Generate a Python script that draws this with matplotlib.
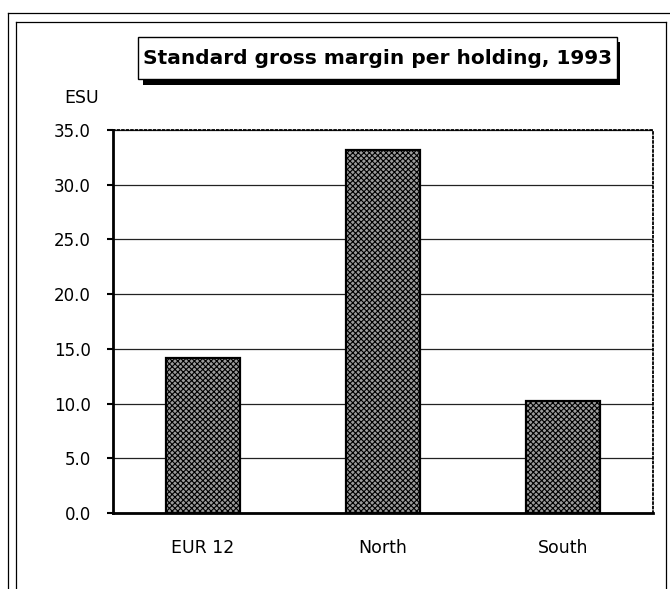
import matplotlib
matplotlib.use("Agg")
import matplotlib.pyplot as plt
from matplotlib.lines import Line2D
from matplotlib.patches import Rectangle

plt.rcParams['font.family'] = ['DejaVu Sans']
plt.rcParams['hatch.linewidth'] = 0.8

categories = ["EUR 12", "North", "South"]
values = [14.2, 33.2, 10.2]
yticks = [0, 5, 10, 15, 20, 25, 30, 35]
title = "Standard gross margin per holding, 1993"
unit = "ESU"

W, H = 670, 589
fig = plt.figure(figsize=(W / 100, H / 100), dpi=100)

def fx(x):
    return x / W

def fy(y):
    return 1 - y / H

# frames
for (xs, ys) in [([8, 8], [589, 13]), ([8, 670], [13, 13]),
                 ([16, 16], [589, 22]), ([16, 666], [22, 22]), ([666, 666], [22, 589])]:
    fig.add_artist(Line2D([fx(x) for x in xs], [fy(y) for y in ys],
                          color='black', lw=0.9, transform=fig.transFigure))

ax = fig.add_axes([fx(113), fy(513), fx(653) - fx(113), fy(130) - fy(513)])
x = list(range(len(categories)))
ax.bar(x, values, width=0.41, facecolor='#9c9c9c', edgecolor='black',
       linewidth=1.6, hatch='xxxxxx', zorder=3)
ax.set_xlim(-0.5, len(categories) - 0.5)
ax.set_ylim(0, 35)
ax.set_yticks(yticks)
ax.set_yticklabels([f"{v:.1f}" for v in yticks], fontsize=12)
ax.set_xticks(x)
ax.set_xticklabels(categories, fontsize=12.5)
ax.tick_params(axis='x', length=0, pad=19)
ax.tick_params(axis='y', direction='out', length=4, width=1.5, pad=12)
ax.grid(axis='y', color='#222222', lw=0.9, zorder=1)
for s in ['top', 'right']:
    ax.spines[s].set_linestyle((0, (1, 1.5)))
    ax.spines[s].set_linewidth(1.3)
for s in ['left', 'bottom']:
    ax.spines[s].set_linewidth(2)

fig.text(fx(64), fy(98), unit, fontsize=12.5, ha='left', va='center')

# title box with shadow
fig.add_artist(Rectangle((fx(143), fy(85)), fx(620) - fx(143), fy(42) - fy(85),
                         transform=fig.transFigure, facecolor='black', edgecolor='none'))
fig.add_artist(Rectangle((fx(138), fy(79)), fx(617) - fx(138), fy(37) - fy(79),
                         transform=fig.transFigure, facecolor='white', edgecolor='black', lw=1))
fig.text(fx(378), fy(58), title, fontsize=14.5, fontweight='bold', ha='center', va='center')

fig.savefig("out.png", dpi=100)
